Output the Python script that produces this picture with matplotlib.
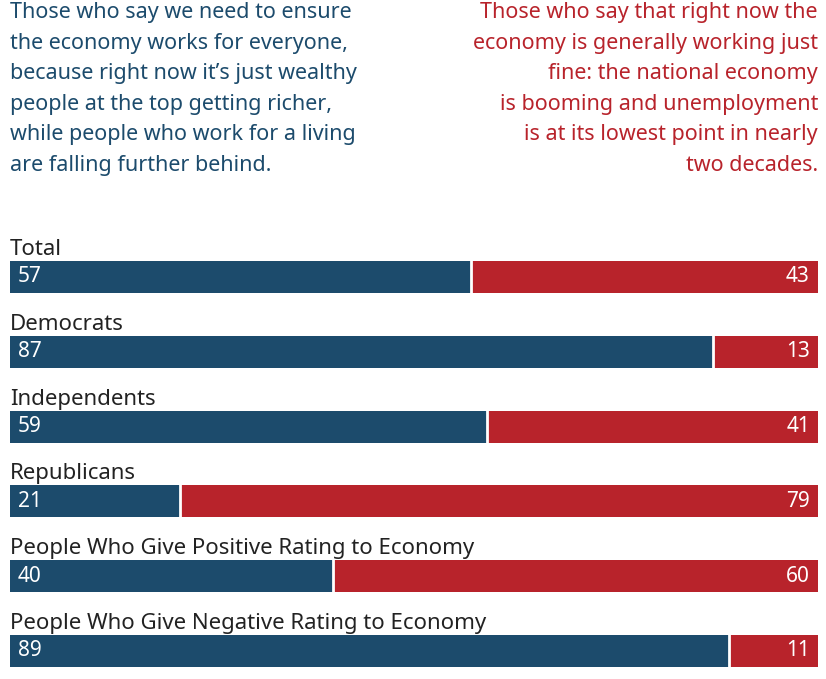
import matplotlib.pyplot as plt

plt.rcParams['font.family'] = ['Noto Sans', 'DejaVu Sans']

groups = ["Total", "Democrats", "Independents", "Republicans",
          "People Who Give Positive Rating to Economy",
          "People Who Give Negative Rating to Economy"]
everyone = [57, 87, 59, 21, 40, 89]
fine = [43, 13, 41, 79, 60, 11]

blue = "#1c4b6c"
red = "#b8232b"

left_text = ("Those who say we need to ensure\nthe economy works for everyone,\n"
             "because right now it\u2019s just wealthy\npeople at the top getting richer,\n"
             "while people who work for a living\nare falling further behind.")
right_text = ("Those who say that right now the\neconomy is generally working just\n"
              "fine: the national economy\nis booming and unemployment\n"
              "is at its lowest point in nearly\ntwo decades.")

fig = plt.figure(figsize=(8.26, 6.79), dpi=100)
ax = fig.add_axes([10 / 826, 0, 808 / 826, 1])
ax.set_xlim(0, 100)
ax.set_ylim(679, 0)
ax.axis("off")

ax.text(0, 2, left_text, color=blue, fontsize=15.5, va="top", ha="left", linespacing=1.6)
ax.text(100, 2, right_text, color=red, fontsize=15.5, va="top", ha="right", linespacing=1.6)

y0, step, h = 277, 74.8, 32
for i, (g, a, b) in enumerate(zip(groups, everyone, fine)):
    y = y0 + step * i
    ax.barh(y, a, height=h, color=blue, edgecolor="none")
    ax.barh(y, b, left=a, height=h, color=red, edgecolor="none")
    ax.plot([a, a], [y - h / 2, y + h / 2], color="white", lw=2)
    ax.text(0, y - h / 2 - 1, g, fontsize=16, fontweight="bold", color="#222222", va="bottom")
    ax.text(1, y, str(a), fontsize=15, fontweight="bold", color="white", va="center")
    ax.text(99, y, str(b), fontsize=15, fontweight="bold", color="white", va="center", ha="right")

fig.savefig("out.png", dpi=100)
